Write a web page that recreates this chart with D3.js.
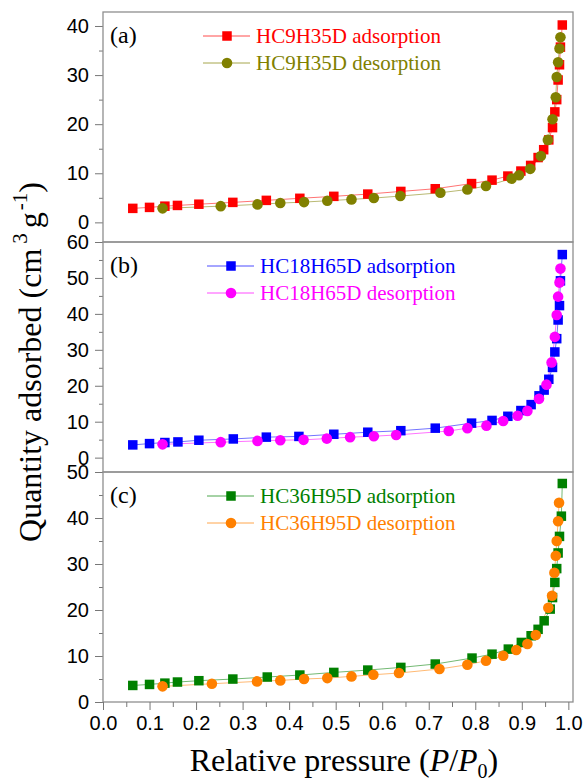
<!DOCTYPE html>
<html>
<head>
<meta charset="utf-8">
<script src="https://cdn.jsdelivr.net/npm/d3@7"></script>
<style>
  body { margin: 0; background: #fff; }
  .tick text { font-family: "Liberation Sans", Arial, sans-serif; font-size: 20px; fill: #000; }
  .tick line { stroke: #777; }
</style>
</head>
<body>
<div id="chart"></div>
<script>
// relative pressure P/P0 and quantity adsorbed (cm3/g)
const adsA_p = [0.064, 0.100, 0.133, 0.160, 0.206, 0.279, 0.351, 0.423, 0.496, 0.569, 0.640, 0.714, 0.792, 0.836, 0.870, 0.898, 0.919, 0.935, 0.947, 0.958, 0.966, 0.971, 0.975, 0.978, 0.981, 0.983, 0.987];
const adsA_q = [2.85, 3.05, 3.3, 3.45, 3.7, 4.07, 4.48, 4.9, 5.3, 5.76, 6.3, 6.85, 7.9, 8.6, 9.43, 10.45, 11.6, 13.2, 14.8, 16.8, 19.3, 22.5, 25.0, 29.0, 32.1, 35.7, 40.2];
const desA_p = [0.128, 0.253, 0.332, 0.381, 0.432, 0.482, 0.534, 0.582, 0.639, 0.725, 0.783, 0.823, 0.878, 0.894, 0.918, 0.941, 0.956, 0.966, 0.973, 0.975, 0.978, 0.981, 0.983];
const desA_q = [2.85, 3.3, 3.66, 3.93, 4.13, 4.4, 4.68, 4.95, 5.36, 6.03, 6.7, 7.4, 8.9, 9.6, 10.9, 13.5, 16.8, 21.0, 25.5, 29.6, 32.6, 35.4, 37.7];

const adsB_p = [0.064, 0.100, 0.133, 0.161, 0.206, 0.280, 0.351, 0.421, 0.496, 0.569, 0.640, 0.714, 0.792, 0.836, 0.870, 0.898, 0.920, 0.937, 0.948, 0.958, 0.966, 0.971, 0.975, 0.978, 0.981, 0.983, 0.987];
const adsB_q = [3.54, 3.9, 4.2, 4.37, 4.84, 5.2, 5.7, 5.9, 6.5, 7.07, 7.5, 8.2, 9.6, 10.35, 11.5, 13.1, 14.75, 17.2, 18.8, 21.8, 25.1, 29.4, 33.1, 38.3, 42.3, 49.2, 56.5];
const desB_p = [0.128, 0.253, 0.332, 0.381, 0.431, 0.481, 0.531, 0.582, 0.630, 0.743, 0.783, 0.824, 0.860, 0.891, 0.912, 0.937, 0.953, 0.964, 0.971, 0.975, 0.978, 0.981, 0.983];
const desB_q = [3.7, 4.3, 4.65, 4.85, 4.95, 5.3, 5.7, 5.96, 6.3, 7.4, 8.2, 8.9, 10.2, 11.65, 13.0, 16.35, 20.3, 26.5, 33.6, 39.7, 44.8, 48.7, 52.6];

const adsC_p = [0.064, 0.100, 0.133, 0.160, 0.206, 0.279, 0.353, 0.423, 0.496, 0.569, 0.640, 0.714, 0.793, 0.836, 0.871, 0.899, 0.920, 0.935, 0.948, 0.961, 0.966, 0.971, 0.975, 0.978, 0.981, 0.985, 0.987];
const adsC_q = [3.6, 3.82, 4.1, 4.34, 4.63, 4.99, 5.43, 5.86, 6.43, 6.94, 7.52, 8.25, 9.55, 10.4, 11.5, 12.95, 14.4, 15.8, 17.65, 20.2, 22.7, 26.0, 29.0, 32.4, 36.0, 40.4, 47.5];
const desC_p = [0.128, 0.234, 0.331, 0.381, 0.432, 0.482, 0.534, 0.581, 0.636, 0.723, 0.783, 0.823, 0.860, 0.888, 0.912, 0.930, 0.957, 0.965, 0.970, 0.973, 0.975, 0.978, 0.980];
const desC_q = [3.4, 3.97, 4.48, 4.7, 4.99, 5.2, 5.57, 5.93, 6.3, 7.17, 8.1, 8.97, 10.05, 11.3, 12.6, 14.55, 20.5, 23.1, 28.1, 31.8, 35.0, 39.3, 43.3];

const panelLabels = ['(a)', '(b)', '(c)'];
const seriesNames = [
  ['HC9H35D adsorption', 'HC9H35D desorption'],
  ['HC18H65D adsorption', 'HC18H65D desorption'],
  ['HC36H95D adsorption', 'HC36H95D desorption'],
];
const yTicksA = [0, 10, 20, 30, 40];
const yTicksB = [0, 10, 20, 30, 40, 50, 60];
const yTicksC = [0, 10, 20, 30, 40, 50];
const xTicks = [0, 0.1, 0.2, 0.3, 0.4, 0.5, 0.6, 0.7, 0.8, 0.9, 1.0];

const cs = {
  serif: '"Liberation Serif", "Times New Roman", serif',
  left: 103,
  right: 573,
  xDomain: [0, 1.01],
  border: '#8f8f8f',
  square: 9.5,
  radius: 5.3,
  panels: [
    { top: 12, bottom: 242, domain: [-4.0, 42.85], ticks: yTicksA, colors: ['#ff0000', '#808000'], legendX: 203 },
    { top: 242, bottom: 472, domain: [-4.0, 60], ticks: yTicksB, colors: ['#0000ff', '#ff00ff'], legendX: 207 },
    { top: 472, bottom: 702, domain: [0, 50], ticks: yTicksC, colors: ['#008000', '#ff8000'], legendX: 207 },
  ],
};
const seriesData = [
  [d3.zip(adsA_p, adsA_q), d3.zip(desA_p, desA_q)],
  [d3.zip(adsB_p, adsB_q), d3.zip(desB_p, desB_q)],
  [d3.zip(adsC_p, adsC_q), d3.zip(desC_p, desC_q)],
];

const svg = d3.select('#chart').append('svg')
  .attr('width', 586)
  .attr('height', 781);

const x = d3.scaleLinear().domain(cs.xDomain).range([cs.left, cs.right]);

const drawMarker = (g, kind, color, px, py) => {
  if (kind === 0) {
    g.append('rect')
      .attr('x', px - cs.square / 2)
      .attr('y', py - cs.square / 2)
      .attr('width', cs.square)
      .attr('height', cs.square)
      .attr('fill', color);
  } else {
    g.append('circle')
      .attr('cx', px)
      .attr('cy', py)
      .attr('r', cs.radius)
      .attr('fill', color);
  }
};

cs.panels.forEach((p, i) => {
  const y = d3.scaleLinear().domain(p.domain).range([p.bottom, p.top]);
  const g = svg.append('g');

  // minor + major y ticks
  const minor = d3.range(5, p.ticks[p.ticks.length - 1], 10);
  g.append('g')
    .attr('transform', `translate(${cs.left},0)`)
    .call(d3.axisLeft(y).tickValues(minor).tickSize(4).tickFormat(''))
    .call(a => a.select('.domain').remove());
  g.append('g')
    .attr('transform', `translate(${cs.left},0)`)
    .call(d3.axisLeft(y).tickValues(p.ticks).tickSize(8).tickPadding(6).tickFormat(d3.format('d')))
    .call(a => a.select('.domain').remove());

  // lines and markers
  seriesData[i].forEach((pts, k) => {
    const line = d3.line().x(d => x(d[0])).y(d => y(d[1]));
    g.append('path')
      .datum(pts)
      .attr('fill', 'none')
      .attr('stroke', p.colors[k])
      .attr('stroke-opacity', 0.55)
      .attr('stroke-width', 1)
      .attr('d', line);
  });
  seriesData[i].forEach((pts, k) => {
    pts.forEach(d => drawMarker(g, k, p.colors[k], x(d[0]), y(d[1])));
  });

  // panel box
  g.append('rect')
    .attr('x', cs.left)
    .attr('y', p.top)
    .attr('width', cs.right - cs.left)
    .attr('height', p.bottom - p.top)
    .attr('fill', 'none')
    .attr('stroke', cs.border)
    .attr('stroke-width', 1.3);

  g.append('text')
    .attr('x', cs.left + 7)
    .attr('y', p.top + 31)
    .attr('font-family', cs.serif)
    .attr('font-size', 24)
    .text(panelLabels[i]);

  // legend
  seriesNames[i].forEach((name, k) => {
    const ly = p.top + 24 + k * 27;
    g.append('line')
      .attr('x1', p.legendX).attr('x2', p.legendX + 47)
      .attr('y1', ly).attr('y2', ly)
      .attr('stroke', p.colors[k])
      .attr('stroke-opacity', 0.7)
      .attr('stroke-width', 1);
    drawMarker(g, k, p.colors[k], p.legendX + 24, ly);
    g.append('text')
      .attr('x', p.legendX + 53)
      .attr('y', ly + 7)
      .attr('font-family', cs.serif)
      .attr('font-size', 21)
      .attr('fill', p.colors[k])
      .text(name);
  });
});

// x axis on bottom panel
const bottom = cs.panels[2].bottom;
svg.append('g')
  .attr('transform', `translate(0,${bottom})`)
  .call(d3.axisBottom(x).tickValues(d3.range(0.05, 1, 0.1)).tickSize(5).tickFormat(''))
  .call(a => a.select('.domain').remove());
svg.append('g')
  .attr('transform', `translate(0,${bottom})`)
  .call(d3.axisBottom(x).tickValues(xTicks).tickSize(8).tickPadding(6).tickFormat(d3.format('.1f')))
  .call(a => a.select('.domain').remove());

// axis titles
const xt = svg.append('text')
  .attr('x', 344)
  .attr('y', 771)
  .attr('text-anchor', 'middle')
  .attr('font-family', cs.serif)
  .attr('font-size', 32);
xt.append('tspan').text('Relative pressure (');
xt.append('tspan').attr('font-style', 'italic').text('P');
xt.append('tspan').text('/');
xt.append('tspan').attr('font-style', 'italic').text('P');
xt.append('tspan').attr('font-size', 20).attr('dy', 7).text('0');
xt.append('tspan').attr('dy', -7).text(')');

const yt = svg.append('text')
  .attr('transform', 'translate(41,362) rotate(-90)')
  .attr('text-anchor', 'middle')
  .attr('font-family', cs.serif)
  .attr('font-size', 32);
yt.append('tspan').text('Quantity adsorbed (cm');
yt.append('tspan').attr('font-size', 21).attr('dx', 5).attr('dy', -14).text('3');
yt.append('tspan').attr('dx', 5).attr('dy', 14).text('g');
yt.append('tspan').attr('font-size', 21).attr('dx', 2).attr('dy', -14).text('-1');
yt.append('tspan').attr('dy', 14).text(')');
</script>
</body>
</html>
